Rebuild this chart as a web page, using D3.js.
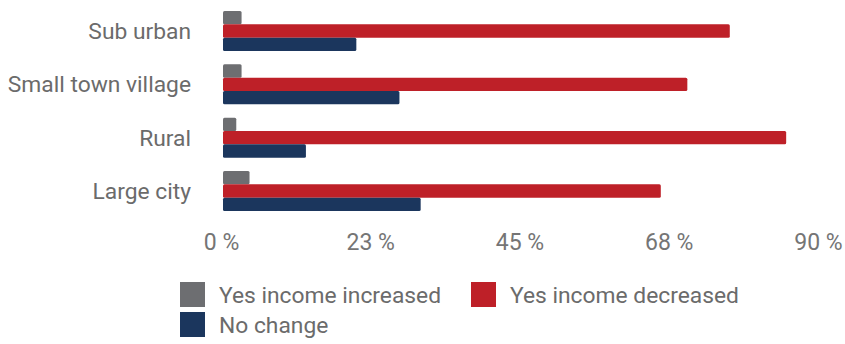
<!DOCTYPE html>
<html>
<head>
<meta charset="utf-8">
<script src="https://cdn.jsdelivr.net/npm/d3@7/dist/d3.min.js"></script>
<style>
  html, body { margin: 0; padding: 0; background: #fff; }
  svg { display: block; font-family: Roboto, "Noto Sans", sans-serif; }
</style>
</head>
<body>
<svg id="chart" width="845" height="344"></svg>
<script>
// Share of respondents by area type (percent)
const categories = ["Sub urban", "Small town village", "Rural", "Large city"];
const seriesNames = ["Yes income increased", "Yes income decreased", "No change"];
const incomeIncreased = [2.8, 2.8, 2.0, 4.0];
const incomeDecreased = [76.4, 70.0, 84.9, 66.0];
const noChange = [20.1, 26.6, 12.5, 29.8];
const tickValues = [0, 22.5, 45, 67.5, 90];
const tickLabels = ["0 %", "23 %", "45 %", "68 %", "90 %"];

const colors = ["#6d6e71", "#be2028", "#1b365d"];
const seriesValues = [incomeIncreased, incomeDecreased, noChange];

const svg = d3.select("#chart");
const textColor = "#6b6b6b";

const x = d3.scaleLinear().domain([0, 90]).range([223, 820]);
const y = d3.scaleBand().domain(categories).range([4.3, 217.7])
  .paddingInner(0.25).paddingOuter(0.125);
const ySub = d3.scaleBand().domain(seriesNames).range([0, y.bandwidth()]);

// bars
const groups = svg.append("g").selectAll("g")
  .data(categories)
  .join("g")
  .attr("transform", d => `translate(0,${y(d)})`);

groups.selectAll("rect")
  .data((d, i) => seriesNames.map((s, k) => ({ s, k, v: seriesValues[k][i] })))
  .join("rect")
  .attr("x", x(0))
  .attr("y", d => ySub(d.s))
  .attr("width", d => x(d.v) - x(0))
  .attr("height", ySub.bandwidth())
  .attr("rx", 1.5)
  .attr("fill", d => colors[d.k]);

// category labels
svg.append("g").selectAll("text")
  .data(categories)
  .join("text")
  .attr("x", 191)
  .attr("y", d => y(d) + y.bandwidth() / 2)
  .attr("dy", "0.35em")
  .attr("text-anchor", "end")
  .attr("font-size", 22.8)
  .attr("fill", textColor)
  .text(d => d);

// value axis labels
const xAxis = d3.axisBottom(x)
  .tickValues(tickValues)
  .tickFormat((d, i) => tickLabels[i])
  .tickSize(0)
  .tickPadding(0);

const axisG = svg.append("g")
  .attr("transform", "translate(-2,234)")
  .call(xAxis);
axisG.select(".domain").remove();
axisG.selectAll("text")
  .attr("font-size", 23)
  .attr("font-family", "Roboto, 'Noto Sans', sans-serif")
  .attr("fill", "#757575")
  .attr("dy", "0.71em");

// legend
const legendItems = [
  { name: seriesNames[0], color: colors[0], x: 180, y: 282 },
  { name: seriesNames[1], color: colors[1], x: 471, y: 282 },
  { name: seriesNames[2], color: colors[2], x: 180, y: 312 }
];
const lg = svg.append("g").selectAll("g")
  .data(legendItems)
  .join("g")
  .attr("transform", d => `translate(${d.x},${d.y})`);
lg.append("rect")
  .attr("width", 25)
  .attr("height", 25)
  .attr("fill", d => d.color);
lg.append("text")
  .attr("x", 39)
  .attr("y", 12.5)
  .attr("dy", "0.36em")
  .attr("font-size", 22.8)
  .attr("fill", textColor)
  .text(d => d.name);
</script>
</body>
</html>
